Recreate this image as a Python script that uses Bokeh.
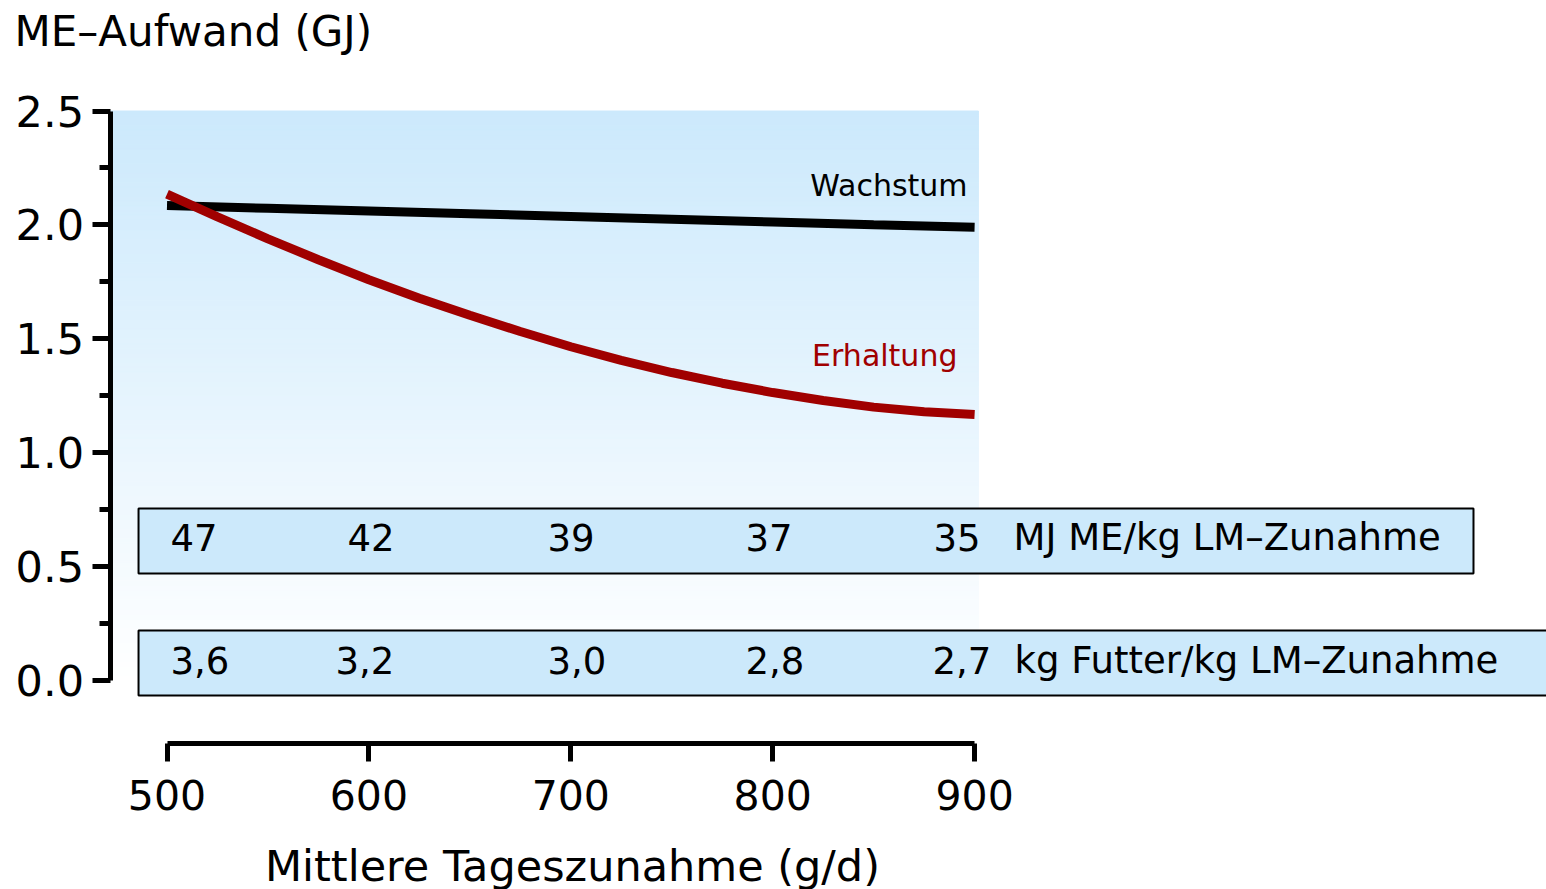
import numpy as np
from bokeh.plotting import figure
from bokeh.models import (Range1d, LinearAxis, FixedTicker, Label, ColumnDataSource,
                          PrintfTickFormatter)
from bokeh.core.properties import value
from bokeh.embed import file_html
from bokeh.resources import INLINE

# ---------------- data ----------------
gain_w = [500, 550, 600, 650, 700, 750, 800, 850, 900]            # g/d
wachstum = [2.085, 2.073, 2.061, 2.049, 2.037, 2.025, 2.013, 2.001, 1.990]   # GJ

gain_e = [500, 525, 550, 575, 600, 625, 650, 675, 700, 725, 750, 775, 800, 825, 850, 875, 900]
erhaltung = [2.135, 2.035, 1.939, 1.847, 1.759, 1.678, 1.603, 1.532, 1.465,
             1.405, 1.352, 1.305, 1.264, 1.229, 1.200, 1.180, 1.168]         # GJ

table_x = [500, 600, 700, 800, 900]
me_per_kg = ["47", "42", "39", "37", "35"]
feed_per_kg = ["3,6", "3,2", "3,0", "2,8", "2,7"]
me_unit = "MJ ME/kg LM–Zunahme"
feed_unit = "kg Futter/kg LM–Zunahme"

x_ticks = [500, 600, 700, 800, 900]
y_ticks = [0.0, 0.5, 1.0, 1.5, 2.0, 2.5]
y_minor = [0.25, 0.75, 1.25, 1.75, 2.25]

title_text = "ME–Aufwand (GJ)"
x_label = "Mittlere Tageszunahme (g/d)"

# ---------------- styling / layout ----------------
FONT = "DejaVu Sans"
RED = "#a00000"
BOX = "#cce9fb"
PX_X = 2.019    # pixels per g/d
PX_Y = 227.8    # pixels per GJ
X0_PX, Y0_PX = 166.5, 680.0   # pixel position of (500, 0)

x_start = 500 - X0_PX / PX_X
x_end = 500 + (1546 - X0_PX) / PX_X
y_end = Y0_PX / PX_Y
y_start = (Y0_PX - 889) / PX_Y

p = figure(width=1546, height=889,
           x_range=Range1d(x_start, x_end), y_range=Range1d(y_start, y_end),
           x_axis_type=None, y_axis_type=None,
           output_backend="svg", toolbar_location=None,
           min_border_left=0, min_border_right=0, min_border_top=0, min_border_bottom=0)
p.outline_line_color = None
p.background_fill_color = "white"
p.border_fill_color = "white"

y_axis_x = 500 + (109.5 - X0_PX) / PX_X
x_axis_y = (Y0_PX - 743.0) / PX_Y

# gradient plot background (light blue at top -> white at bottom)
n = 120
edges = np.linspace(0.0, 2.5, n + 1)
top_rgb = np.array([204, 233, 252])
bot_rgb = np.array([255, 255, 255])
cols = []
for i in range(n):
    t = (edges[i] + edges[i + 1]) / 2 / 2.5
    c = bot_rgb + (top_rgb - bot_rgb) * t
    cols.append("#%02x%02x%02x" % tuple(int(round(v)) for v in c))
p.quad(left=y_axis_x, right=901.9, bottom=edges[:-1], top=edges[1:],
       fill_color=cols, line_color=cols, line_width=1)

# curves
src_w = ColumnDataSource(dict(x=gain_w, y=wachstum))
src_e = ColumnDataSource(dict(x=gain_e, y=erhaltung))
p.line("x", "y", source=src_w, line_color="black", line_width=9, line_cap="butt")
p.line("x", "y", source=src_e, line_color=RED, line_width=9, line_cap="butt")

p.add_layout(Label(x=896.5, y=2.098, text="Wachstum", text_align="right",
                   text_font=FONT, text_font_size="30px", text_color="black"))
p.add_layout(Label(x=891.5, y=1.352, text="Erhaltung", text_align="right",
                   text_font=FONT, text_font_size="30px", text_color=RED))

# table boxes
p.quad(left=[485.9], right=[1147.1], bottom=[0.470], top=[0.755],
       fill_color=BOX, line_color="black", line_width=2)
p.quad(left=[485.9], right=[1250.0], bottom=[-0.066], top=[0.2195],
       fill_color=BOX, line_color="black", line_width=2)

tsrc = ColumnDataSource(dict(x=table_x, me=me_per_kg, feed=feed_per_kg,
                             off1=[3.5, -21.4, -23.3, -27.2, -41.1],
                             off2=[3.5, -33.4, -23.3, -27.2, -42.1]))
row1_y, row2_y = 0.628, 0.088
txt = dict(text_font=value(FONT), text_font_size="37px", text_align="left",
           text_baseline="alphabetic", text_color="black")
p.text(x="x", y=row1_y, text="me", source=tsrc, x_offset="off1", **txt)
p.text(x="x", y=row2_y, text="feed", source=tsrc, x_offset="off2", **txt)
p.text(x=[900], y=[row1_y], text=[me_unit], x_offset=39, **txt)
p.text(x=[900], y=[row2_y], text=[feed_unit], x_offset=40, **txt)

# axes (drawn at fixed positions inside the canvas)
yaxis = LinearAxis(bounds=(0, 2.5), fixed_location=y_axis_x,
                   ticker=FixedTicker(ticks=y_ticks, minor_ticks=y_minor),
                   formatter=PrintfTickFormatter(format="%.1f"),
                   axis_line_width=5, axis_line_color="black",
                   major_tick_line_width=5, minor_tick_line_width=5,
                   major_tick_out=18, major_tick_in=0,
                   minor_tick_out=11, minor_tick_in=0,
                   major_label_standoff=8,
                   major_label_text_font=FONT, major_label_text_font_size="43px",
                   major_label_text_color="black")
p.add_layout(yaxis, "left")

xaxis = LinearAxis(bounds=(500, 900), fixed_location=x_axis_y,
                   ticker=FixedTicker(ticks=x_ticks, minor_ticks=[]),
                   axis_line_width=5, axis_line_color="black",
                   major_tick_line_width=5, major_tick_out=18, major_tick_in=0,
                   minor_tick_out=0, minor_tick_in=0,
                   major_label_standoff=18,
                   major_label_text_font=FONT, major_label_text_font_size="41px",
                   major_label_text_color="black")
p.add_layout(xaxis, "below")

# titles
p.add_layout(Label(x=500 + (14 - X0_PX) / PX_X, y=(Y0_PX - 55) / PX_Y, text=title_text,
                   text_font=FONT, text_font_size="42px", text_color="black"))
p.add_layout(Label(x=700.8, y=(Y0_PX - 890) / PX_Y, text=x_label, text_align="center",
                   text_font=FONT, text_font_size="43px", text_color="black"))

open("out.html", "w").write(file_html(p, INLINE))
